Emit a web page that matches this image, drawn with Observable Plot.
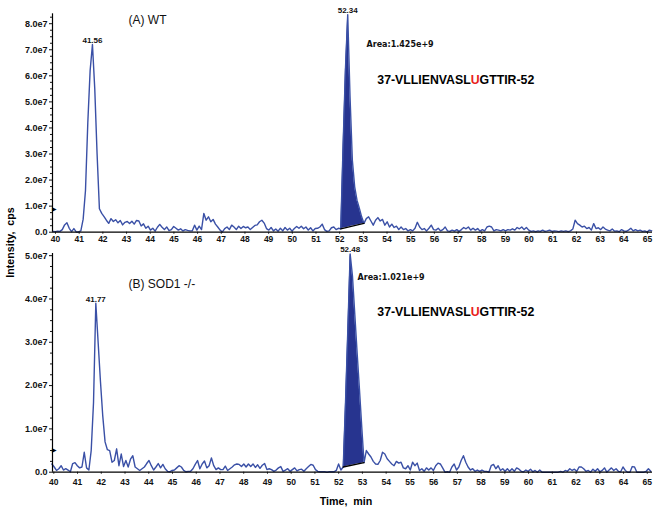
<!DOCTYPE html>
<html><head><meta charset="utf-8">
<script src="https://cdn.jsdelivr.net/npm/d3@7"></script>
<script src="https://cdn.jsdelivr.net/npm/@observablehq/plot@0.6"></script>
<style>
body{margin:0;background:#fff;}
#wrap{position:relative;width:657px;height:511px;font-family:"Liberation Sans",Arial,sans-serif;}
#wrap > svg{position:absolute;left:0;}
#wrap g[aria-label$="tick label"]{font-weight:bold;}
</style></head><body><div id="wrap"></div>
<script>
// ---- data (intensity in units of 1e6 cps, uniform scan sampling) ----
const wtStart = 39.894, wtStep = 0.098;
const sodStart = 39.919, sodStep = 0.0974;

const wtIntensity = [
0.3,0.2,0.4,0.3,1.0,2.8,3.6,1.5,0.2,1.4,
0.1,0.1,0.5,5,16,42,62,72,55,30,
9,7.2,6.0,4.6,3.4,5.2,4.1,4.8,3.6,4.5,
2.8,3.8,4.1,3.3,4.2,3.1,4.5,4.3,2.4,3.2,
1.5,2.3,0.8,1.5,0.4,1.9,3.0,1.9,1.0,2.0,
0.6,1.0,2.2,1.5,0.8,1.3,0.5,1.0,0.7,0.5,
0.5,2.7,0.8,2.3,1.0,7.2,4.6,5.9,4.0,4.9,
3.1,2.0,0.8,0.1,1.4,2.0,1.0,2.7,2.0,1.0,
2.3,1.4,2.2,1.7,2.0,1.0,1.8,2.6,2.8,4.0,
4.6,3.5,1.4,0.8,1.8,0.5,1.2,0.4,1.5,0.5,
1.8,0.8,1.5,0.4,1.4,2.2,1.5,2.3,1.3,2.0,
0.8,1.7,0.5,1.4,1.5,2.0,3.1,1.0,0.3,0.5,
1.7,2.0,1.0,1.5,1.3,33,62,83.5,52,27.6,
17.4,12.3,9.2,5.9,3.4,5.2,5.9,4.3,2.7,4.6,
5.6,4.3,4.9,2.7,4.0,2.0,3.1,1.8,2.3,1.0,
2.0,1.0,1.4,0.5,1.0,0.5,1.5,3.8,2.0,1.0,
1.4,0.5,1.5,2.7,1.0,0.8,1.5,0.5,1.0,2.0,
0.5,0.3,0.8,0.4,1.0,0.3,1.0,1.8,1.3,2.0,
0.8,1.5,0.8,1.4,0.4,1.0,0.5,2.0,2.3,2.0,
0.5,1.0,0.8,0.5,1.0,0.5,1.0,0.8,1.3,0.8,
1.8,1.3,2.0,1.0,1.8,0.8,0.3,0.5,0.2,0.5,
0.3,0.8,0.3,0.5,0.8,0.3,0.5,0.4,0.2,0.5,
0.3,0.5,0.2,0.5,1.2,4.6,3.3,2.7,2.0,2.3,
1.4,1.8,0.8,3.3,1.4,1.7,1.0,2.0,1.2,0.8,
0.5,1.2,0.4,0.5,0.2,1.0,0.5,0.3,0.8,1.5,
0.5,1.0,0.5,0.8,0.3,0.5,0.1,0.8,0.5
];

const sodIntensity = [
1.9,1.2,0.4,0.8,1.5,0.5,0.8,0.5,0.1,2.0,
2.2,1.5,1.0,1.2,4.6,1.0,0.5,5.0,16,39,
30,21,13,7,5.2,5.0,2.3,2.7,5.4,1.5,
4.2,1.3,2.7,1.2,3.0,3.8,1.2,0.8,0.4,0.8,
1.2,2.0,2.7,1.5,0.5,1.2,2.0,1.0,1.8,0.8,
0.2,0.1,0.4,0.5,1.0,1.5,1.2,0.4,0.1,0.2,
0.2,0.8,1.8,2.7,0.8,1.9,2.6,1.0,1.5,3.3,
1.5,0.6,1.0,0.6,0.6,1.4,0.4,0.8,1.2,1.7,
1.9,1.8,1.3,1.9,1.2,1.9,1.3,1.9,1.1,1.7,
0.9,1.6,2.0,0.6,0.8,0.6,0.2,0.5,1.0,1.3,
0.2,0.5,0.8,0.2,0.6,1.0,0.3,0.6,0.7,0.2,
0.8,1.3,1.8,1.6,0.6,0.2,0.1,0.1,0.1,0.0,
0.1,0.1,0.1,0.4,1.9,0.5,1.2,16.2,33,50.4,
45.3,36.5,27.7,19.3,10.6,2.2,5.0,4.2,3.5,2.5,
1.9,1.8,2.7,4.6,4.2,3.1,2.5,1.9,1.5,2.5,
2.1,2.3,1.0,0.8,1.5,0.5,2.3,1.5,2.1,0.4,
0.8,0.2,1.0,0.5,1.0,0.4,1.5,2.1,1.9,1.0,
0,0.1,0,1.2,1.9,0.5,1.2,2.7,3.8,2.3,
1.2,0.5,0.8,0.2,0.5,0.2,0.5,0.2,0.2,0,
1.5,1.8,0.8,1.5,0.4,0.8,0.2,0.8,0.2,0.8,
0.2,1.0,0.7,0.2,0.1,0.5,0.2,0.7,0.1,0.4,
0,0.5,0,0,0,0,0,0,0,0,
0.2,0,0.4,0.2,0.8,0.4,0.7,0.2,1.2,1.2,
0.8,0.2,0.4,0,0.7,0.2,0.8,0.1,0.4,1.0,
0,0.5,1.0,0.4,0.8,0.2,0.1,1.2,0.4,0,
0,1.3,1.2,0,0,0,0,0.2,0.8,0.2
];

const wtPeakLabels = ["41.56", "52.34"];
const sodPeakLabels = ["41.77", "52.48"];
const wtIntegration = [52.05, 53.03];   // min
const sodIntegration = [52.19, 53.07];  // min
const wtArea = "1.425e+9";
const sodArea = "1.021e+9";
const wtThreshold = 9;    // 1e6 cps
const sodThreshold = 5;
const wtTitle = "(A) WT";
const sodTitle = "(B) SOD1 -/-";
const peptideParts = ["37-VLLIENVASL", "U", "GTTIR-52"];
const xTicks = d3.range(40, 66);
const wtYTicks = [0,10,20,30,40,50,60,70,80];
const sodYTicks = [0,10,20,30,40,50];

// ---- drawing ----
const LINE = "#3a50a6", FILL = "#27348f";
const fmt = d => d === 0 ? "0.0" : (d / 10).toFixed(1) + "e7";
const wrap = document.getElementById("wrap");

function panel(cfg) {
  const data = cfg.values.map((v, i) => ({t: cfg.start + i * cfg.step, v}));
  const idx = t => Math.round((t - cfg.start) / cfg.step);
  const [i0, i1] = cfg.integration.map(idx);
  const p0 = data[i0], p1 = data[i1];
  const fillData = data.slice(i0, i1 + 1).map(d => ({t: d.t, v: d.v,
    b: p0.v + (p1.v - p0.v) * (d.t - p0.t) / (p1.t - p0.t)}));
  const peaks = cfg.peaks.map(l => ({...data[idx(+l)], label: l}));
  const minor = d3.range(0, cfg.yDomain[1], 2.5).filter(v => v % 10 !== 0);
  const p = Plot.plot({
    width: 657, height: cfg.height,
    marginTop: cfg.marginTop, marginBottom: cfg.marginBottom, marginLeft: 52, marginRight: 5,
    x: {domain: cfg.xDomain},
    y: {domain: cfg.yDomain},
    style: {fontFamily: "'Liberation Sans', Arial, sans-serif", fontSize: "9px", background: "transparent", overflow: "visible", color: "#111"},
    marks: [
      Plot.areaY(fillData, {x: "t", y1: "b", y2: "v", fill: FILL}),
      Plot.line(data, {x: "t", y: "v", stroke: LINE, strokeWidth: 1.4}),
      Plot.line([p0, p1], {x: "t", y: "v", stroke: "black", strokeWidth: 1.3}),
      Plot.ruleY([0], {stroke: "black", strokeWidth: 1.2}),
      Plot.ruleX([cfg.xDomain[0]], {stroke: "black", strokeWidth: 1.2}),
      Plot.axisY({ticks: cfg.yTicks, tickSize: 3, tickPadding: 2, tickFormat: fmt, fontSize: 9, fontWeight: "bold", label: null}),
      Plot.axisY({ticks: minor, tickSize: 2, tickFormat: () => "", label: null}),
      Plot.axisX({ticks: xTicks, tickSize: 2, tickPadding: cfg.xPad, tickFormat: d => String(d), fontSize: 8.5, fontWeight: "bold", label: null}),
      Plot.text(peaks, {x: "t", y: "v", text: "label", lineAnchor: "bottom", dy: -1.5, fontSize: 8, fontWeight: "bold"}),
      Plot.text([cfg.title], {frameAnchor: "top-left", dx: cfg.titlePos[0], dy: cfg.titlePos[1], textAnchor: "start", lineAnchor: "middle", fontSize: 12}),
      Plot.text(["Area:" + cfg.area], {frameAnchor: "top-left", dx: cfg.areaPos[0], dy: cfg.areaPos[1], textAnchor: "start", lineAnchor: "middle", fontSize: 8, fontWeight: "bold", fontFamily: "DejaVu Sans"}),
      Plot.text([cfg.threshold], {y: d => d, frameAnchor: "left", text: () => "\u25B6", dx: -1, fontSize: 6, fill: "black"})
    ]
  });
  p.style.top = cfg.top + "px";
  wrap.appendChild(p);
}

panel({values: wtIntensity, start: wtStart, step: wtStep, integration: wtIntegration,
  peaks: wtPeakLabels, area: wtArea, threshold: wtThreshold, title: wtTitle, yTicks: wtYTicks,
  height: 245, marginTop: 13.3, marginBottom: 13.3, xDomain: [39.873, 65.211], yDomain: [0, 83.8],
  xPad: 1.5, titlePos: [76, 6.7], areaPos: [314, 30.7], top: 0});

panel({values: sodIntensity, start: sodStart, step: sodStep, integration: sodIntegration,
  peaks: sodPeakLabels, area: sodArea, threshold: sodThreshold, title: sodTitle, yTicks: sodYTicks,
  height: 266, marginTop: 8, marginBottom: 39.3, xDomain: [39.945, 65.22], yDomain: [0, 50.5],
  xPad: 5, titlePos: [76, 31], areaPos: [305, 24.3], top: 245});

// overlay: shared axis titles and peptide sequences
const ov = d3.select(wrap).append("svg").attr("width", 657).attr("height", 511)
  .style("top", "0px").style("pointer-events", "none")
  .attr("font-family", "'Liberation Sans', Arial, sans-serif");
ov.append("text").attr("transform", "translate(10,242.5) rotate(-90)")
  .attr("text-anchor", "middle").attr("dominant-baseline", "central")
  .attr("font-weight", "bold").attr("font-size", 10.7).style("white-space", "pre")
  .text("Intensity,  cps");
ov.append("text").attr("x", 346).attr("y", 501)
  .attr("text-anchor", "middle").attr("dominant-baseline", "central")
  .attr("font-weight", "bold").attr("font-size", 10.7).style("white-space", "pre")
  .text("Time,  min");
for (const y of [80, 311.7]) {
  const t = ov.append("text").attr("x", 377.3).attr("y", y)
    .attr("dominant-baseline", "central").attr("font-weight", "bold").attr("font-size", 12.3);
  peptideParts.forEach((s, i) => t.append("tspan").attr("fill", i === 1 ? "#e8211c" : "#000").text(s));
}
</script></body></html>
